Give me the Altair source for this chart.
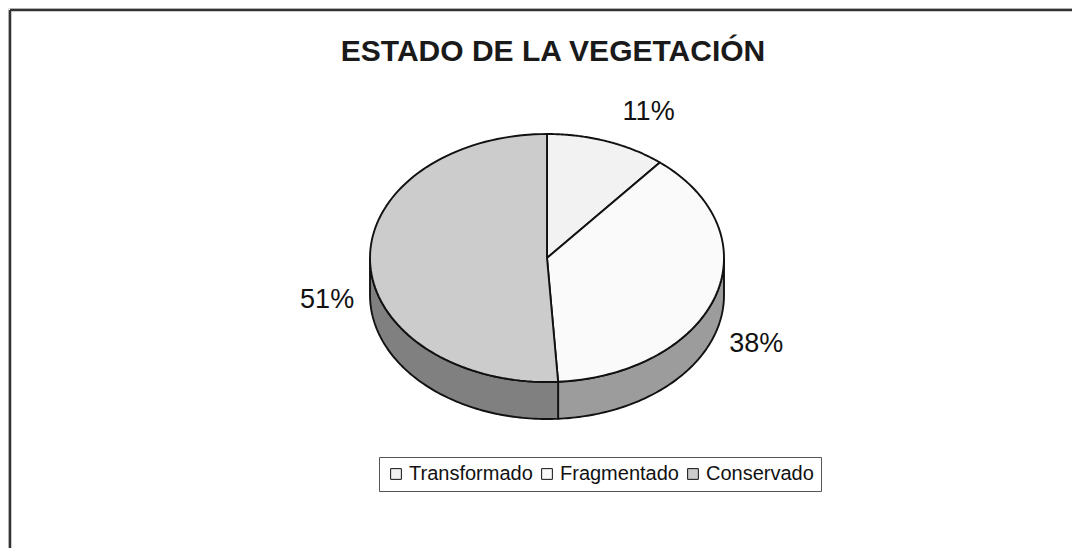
import altair as alt
import pandas as pd

# ---- data ----
categories = ["Transformado", "Fragmentado", "Conservado"]
values = [11, 38, 51]
top_colors = ["#f2f2f2", "#fafafa", "#cccccc"]
side_colors = ["#d0d0d0", "#9c9c9c", "#808080"]
title_text = "ESTADO DE LA VEGETACIÓN"

df = pd.DataFrame({
    "category": categories,
    "value": values,
    "idx": list(range(len(categories))),
    "topColor": top_colors,
    "sideColor": side_colors,
})

# ---- layout constants (page pixels) ----
W, H = 1064, 540
CX, CY, RX, RY, D = 547, 258, 177, 124, 37
N = 90
FONT = "Liberation Sans"

xs = alt.Scale(domain=[8, 8 + W], range=[0, W], nice=False, zero=False)
ys = alt.Scale(domain=[8, 8 + H], range=[0, H], nice=False, zero=False)


def base():
    return (
        alt.Chart()
        .transform_window(cum="sum(value)", sort=[alt.SortField("idx")], frame=[None, 0])
        .transform_joinaggregate(total="sum(value)")
        .transform_calculate(
            a0="2*PI*(datum.cum - datum.value)/datum.total",
            a1="2*PI*datum.cum/datum.total",
        )
    )


# top faces
top = (
    base()
    .transform_calculate(k=f"sequence(0, {N + 3})")
    .transform_flatten(["k"])
    .transform_calculate(
        ang=f"datum.a0 + (datum.a1 - datum.a0) * (datum.k - 1) / {N}",
    )
    .transform_calculate(
        px=f"(datum.k == 0 || datum.k == {N + 2}) ? {CX} : {CX} + {RX}*sin(datum.ang)",
        py=f"(datum.k == 0 || datum.k == {N + 2}) ? {CY} : {CY} - {RY}*cos(datum.ang)",
    )
    .mark_line(filled=True, stroke="#111111", strokeWidth=1.9, strokeJoin="round")
    .encode(
        x=alt.X("px:Q", scale=xs, axis=None),
        y=alt.Y("py:Q", scale=ys, axis=None),
        order="k:Q",
        detail="category:N",
        fill=alt.Fill("topColor:N", scale=None),
    )
)

# front side walls
side = (
    base()
    .transform_calculate(s="max(datum.a0, PI/2)", e="min(datum.a1, 3*PI/2)")
    .transform_filter("datum.s < datum.e")
    .transform_calculate(k=f"sequence(0, {2 * N + 3})")
    .transform_flatten(["k"])
    .transform_calculate(
        ang=(
            f"datum.k <= {N} ? datum.s + (datum.e - datum.s) * datum.k / {N} : "
            f"(datum.k <= {2 * N + 1} ? datum.e - (datum.e - datum.s) * (datum.k - {N + 1}) / {N} : datum.s)"
        ),
        dep=f"(datum.k > {N} && datum.k <= {2 * N + 1}) ? {D} : 0",
    )
    .transform_calculate(
        px=f"{CX} + {RX}*sin(datum.ang)",
        py=f"{CY} - {RY}*cos(datum.ang) + datum.dep",
    )
    .mark_line(filled=True, stroke="#111111", strokeWidth=1.9, strokeJoin="round")
    .encode(
        x=alt.X("px:Q", scale=xs, axis=None),
        y=alt.Y("py:Q", scale=ys, axis=None),
        order="k:Q",
        detail="category:N",
        fill=alt.Fill("sideColor:N", scale=None),
    )
)

# percentage labels
labels = (
    base()
    .transform_calculate(mid="(datum.a0 + datum.a1)/2")
    .transform_calculate(
        lx=f"cos(datum.mid) > 0 ? {CX} + 300*sin(datum.mid) : {CX} + 220*sin(datum.mid)",
        ly=f"cos(datum.mid) > 0 ? {CY} - 155*cos(datum.mid) : {CY} - 160*cos(datum.mid) + {D}",
        lab="round(100*datum.value/datum.total) + '%'",
    )
    .mark_text(font=FONT, fontSize=27, color="#111111", align="center", baseline="middle")
    .encode(
        x=alt.X("lx:Q", scale=xs, axis=None),
        y=alt.Y("ly:Q", scale=ys, axis=None),
        text="lab:N",
    )
)

# legend source (hidden under the pie)
legend_layer = (
    alt.Chart()
    .mark_square(opacity=1, size=20)
    .encode(
        x=alt.value(CX - 8),
        y=alt.value(CY - 8),
        fill=alt.Fill(
            "category:N",
            scale=alt.Scale(domain=categories, range=top_colors),
            legend=alt.Legend(
                title=None,
                orient="none",
                legendX=371,
                legendY=449,
                direction="horizontal",
                labelFont=FONT,
                labelFontSize=20,
                labelColor="#111111",
                symbolType="square",
                symbolSize=115,
                symbolStrokeColor="#111111",
                symbolStrokeWidth=1,
                symbolOpacity=1,
                strokeColor="#555555",
                fillColor="white",
                padding=7,
                columnPadding=4,
                labelOffset=3,
            ),
        ),
    )
)

title = (
    alt.Chart(alt.Data(values=[{"t": title_text}]))
    .mark_text(font=FONT, fontSize=30, fontWeight="bold", color="#1a1a1a", align="center", baseline="middle")
    .encode(x=alt.value(553 - 8), y=alt.value(52 - 8), text="t:N")
)

frame_top = (
    alt.Chart(alt.Data(values=[{}]))
    .mark_rule(color="#333333", strokeWidth=2.5)
    .encode(x=alt.value(2), x2=alt.value(W), y=alt.value(2))
)
frame_left = (
    alt.Chart(alt.Data(values=[{}]))
    .mark_rule(color="#333333", strokeWidth=2.5)
    .encode(x=alt.value(2), y=alt.value(2), y2=alt.value(H))
)

chart = (
    alt.layer(legend_layer, side, top, labels, data=df)
)
chart = (
    alt.layer(chart, title, frame_top, frame_left)
    .properties(width=W, height=H, padding=0, autosize=alt.AutoSizeParams(type="none"))
    .configure_view(strokeWidth=0)
    .configure(background="white")
)

chart.save("out.html", embed_options={"renderer": "svg", "actions": False})
